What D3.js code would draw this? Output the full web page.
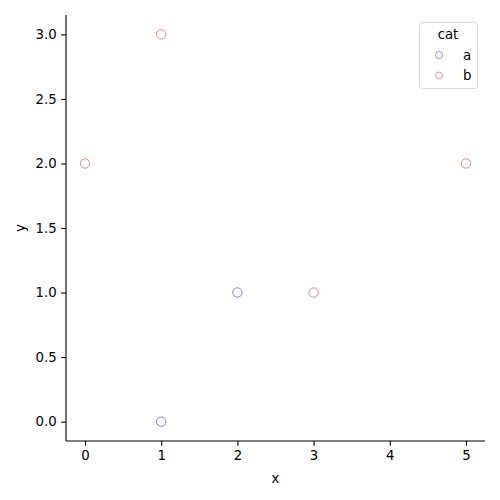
<!DOCTYPE html>
<html><head><meta charset="utf-8">
<script src="https://cdn.jsdelivr.net/npm/d3@7"></script>
<style>body{margin:0;background:#fff}svg{display:block}text{font-family:"DejaVu Sans",sans-serif}</style>
</head><body><svg id="c" width="500" height="500"></svg>
<script>
const xs = [1, 2, 0, 1, 3, 5];
const ys = [0, 1, 2, 3, 1, 2];
const cats = ["a", "a", "b", "b", "b", "b"];
const categories = ["a", "b"];
const colors = ["#7373d9", "#e87a7a"];
const xTicks = [0, 1, 2, 3, 4, 5];
const yTicks = [0, 0.5, 1, 1.5, 2, 2.5, 3];

const svg = d3.select("#c");
const L = 66, R = 485, T = 15, B = 441;
const x = d3.scaleLinear().domain([-0.25, 5.25]).range([L, R]);
const y = d3.scaleLinear().domain([-0.15, 3.15]).range([B, T]);
const color = d3.scaleOrdinal().domain(categories).range(colors);
const fs = 13.3;

const gx = svg.append("g").attr("transform", `translate(0,${B})`)
  .call(d3.axisBottom(x).tickValues(xTicks).tickFormat(d3.format("d")).tickSize(4.8).tickPadding(4.5));
const gy = svg.append("g").attr("transform", `translate(${L},0)`)
  .call(d3.axisLeft(y).tickValues(yTicks).tickFormat(d3.format(".1f")).tickSize(4.8).tickPadding(4.5));
[gx, gy].forEach(g => {
  g.selectAll("text").attr("font-size", fs).attr("fill", "#000").attr("font-family", '"DejaVu Sans",sans-serif');
  g.selectAll("line").attr("stroke", "#000").attr("stroke-width", 1.1);
  g.select(".domain").attr("stroke", "#000").attr("stroke-width", 1.1);
});
gx.select(".domain").attr("d", `M${L},0H${R}`);
gy.select(".domain").attr("d", `M0,${B}V${T}`);

svg.append("text").attr("x", (L + R) / 2).attr("y", 483).attr("text-anchor", "middle").attr("font-size", fs).text("x");
svg.append("text").attr("transform", `translate(25,${(T + B) / 2}) rotate(-90)`).attr("text-anchor", "middle").attr("font-size", fs).text("y");

svg.append("g").selectAll("circle").data(xs).join("circle")
  .attr("cx", (d, i) => x(xs[i])).attr("cy", (d, i) => y(ys[i])).attr("r", 4.7)
  .attr("fill", "none").attr("stroke", (d, i) => color(cats[i])).attr("stroke-width", 0.9);

// legend
const lg = svg.append("g");
lg.append("rect").attr("x", 419.5).attr("y", 22.5).attr("width", 58).attr("height", 66).attr("rx", 3)
  .attr("fill", "#fff").attr("fill-opacity", 0.8).attr("stroke", "#d9d9d9").attr("stroke-width", 1);
lg.append("text").attr("x", 448).attr("y", 39).attr("text-anchor", "middle").attr("font-size", fs).text("cat");
categories.forEach((c, i) => {
  const yy = 55 + i * 20.5;
  lg.append("circle").attr("cx", 439).attr("cy", yy).attr("r", 3.5).attr("fill", "none")
    .attr("stroke", color(c)).attr("stroke-width", 0.8);
  lg.append("text").attr("x", 463).attr("y", yy + 4.5).attr("font-size", fs).text(c);
});
</script></body></html>
